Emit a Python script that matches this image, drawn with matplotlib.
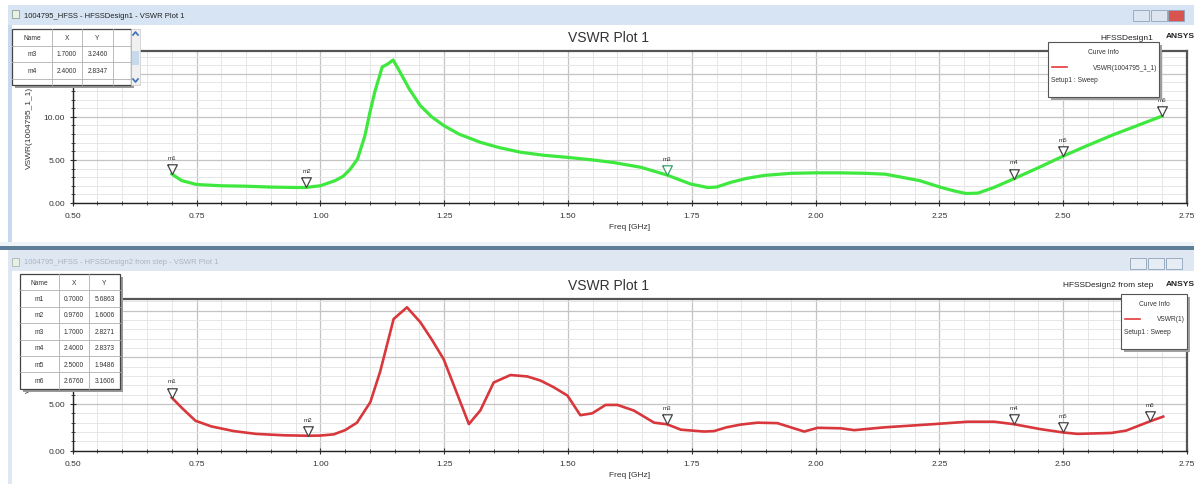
import numpy as np
import matplotlib
matplotlib.use('Agg')
import matplotlib.pyplot as plt
from matplotlib.patches import Rectangle
from matplotlib.ticker import MultipleLocator

plt.rcParams['font.family'] = ['Liberation Sans', 'DejaVu Sans']

W, H = 1194, 485

# ---- data ----
freq_top = [0.70, 0.72, 0.75, 0.80, 0.85, 0.90, 0.95, 0.97, 1.00, 1.03, 1.046, 1.06,
            1.075, 1.09, 1.10, 1.11, 1.125, 1.135, 1.147, 1.16, 1.18, 1.202, 1.225,
            1.249, 1.28, 1.323, 1.36, 1.404, 1.45, 1.499, 1.55, 1.592, 1.647, 1.70,
            1.748, 1.782, 1.80, 1.829, 1.86, 1.896, 1.951, 2.00, 2.05, 2.10, 2.14,
            2.173, 2.21, 2.254, 2.28, 2.304, 2.328, 2.36, 2.401, 2.45, 2.50, 2.55,
            2.60, 2.65, 2.70]
vswr_top = [3.37, 2.6, 2.15, 2.0, 1.95, 1.85, 1.8, 1.8, 2.0, 2.6, 3.1, 3.9,
            5.1, 7.8, 10.5, 12.9, 15.8, 16.1, 16.6, 15.3, 13.2, 11.3, 10.0,
            9.0, 8.0, 7.05, 6.45, 5.9, 5.55, 5.3, 5.0, 4.7, 4.15, 3.25,
            2.2, 1.8, 1.85, 2.4, 2.85, 3.2, 3.45, 3.5, 3.5, 3.45, 3.35,
            3.0, 2.6, 1.8, 1.4, 1.1, 1.15, 1.8, 2.83, 4.1, 5.45, 6.7,
            7.9, 9.0, 10.1]

freq_bot = [0.70, 0.72, 0.748, 0.78, 0.825, 0.87, 0.926, 0.976, 1.00, 1.027, 1.05,
            1.074, 1.101, 1.121, 1.148, 1.175, 1.202, 1.225, 1.249, 1.30, 1.323,
            1.35, 1.384, 1.418, 1.445, 1.471, 1.499, 1.525, 1.549, 1.576, 1.60,
            1.633, 1.674, 1.70, 1.728, 1.775, 1.795, 1.82, 1.849, 1.883, 1.923,
            1.95, 1.977, 2.004, 2.051, 2.078, 2.139, 2.24, 2.307, 2.361, 2.40,
            2.455, 2.50, 2.529, 2.597, 2.627, 2.676, 2.702]
vswr_bot = [5.69, 4.6, 3.2, 2.6, 2.1, 1.8, 1.65, 1.60, 1.62, 1.75, 2.2,
            3.0, 5.2, 8.5, 14.1, 15.35, 13.75, 11.9, 9.8, 2.85, 4.3,
            7.3, 8.1, 7.95, 7.5, 6.8, 5.9, 3.8, 4.0, 4.9, 4.9,
            4.3, 3.0, 2.83, 2.25, 2.05, 2.1, 2.5, 2.8, 3.0, 2.95,
            2.5, 2.05, 2.45, 2.4, 2.2, 2.5, 2.85, 3.1, 3.1, 2.84,
            2.3, 1.95, 1.8, 1.9, 2.15, 3.16, 3.65]

marker_names = ['m1', 'm2', 'm3', 'm4', 'm5', 'm6']
mk_freq_top = [0.70, 0.972, 1.70, 2.40, 2.50, 2.70]
mk_vswr_top = [3.37, 1.80, 3.2460, 2.8347, 5.45, 10.1]
mk_freq_bot = [0.70, 0.976, 1.70, 2.40, 2.50, 2.676]
mk_vswr_bot = [5.6863, 1.6006, 2.8271, 2.8373, 1.9486, 3.1606]

table_top_rows = [('m3', '1.7000', '3.2460'), ('m4', '2.4000', '2.8347')]
table_bot_rows = [('m1', '0.7000', '5.6863'), ('m2', '0.9760', '1.6006'),
                  ('m3', '1.7000', '2.8271'), ('m4', '2.4000', '2.8373'),
                  ('m5', '2.5000', '1.9486'), ('m6', '2.6760', '3.1606')]

xticks = [0.50, 0.75, 1.00, 1.25, 1.50, 1.75, 2.00, 2.25, 2.50, 2.75]

fig = plt.figure(figsize=(W / 100, H / 100), dpi=100)

# background "desktop" axes in pixel coordinates
bg = fig.add_axes([0, 0, 1, 1], zorder=0)
bg.set_xlim(0, W)
bg.set_ylim(H, 0)
bg.axis('off')


def rect(ax, x, y, w, h, fc, ec='none', lw=0.0, z=1):
    ax.add_patch(Rectangle((x, y), w, h, facecolor=fc, edgecolor=ec, linewidth=lw, zorder=z))


# window frames
rect(bg, 0, 0, W, H, 'white')
rect(bg, 8, 6, W, 238, '#c7d9ee')
rect(bg, 12, 26, W, 218, 'white', z=2)
rect(bg, 8, 6, W, 20, '#d6e4f3', z=2)
rect(bg, 0, 243, W, 4, '#eef3f8', z=2)
rect(bg, 0, 247, W, 4, '#5f7f98', z=2)
rect(bg, 8, 251, W, 240, '#dfe8f2', z=2)
rect(bg, 12, 272, W, 220, 'white', z=3)

bg.text(24, 16, '1004795_HFSS - HFSSDesign1 - VSWR Plot 1', fontsize=5.5,
        va='center', color='#222222', zorder=5)
bg.text(24, 263, '1004795_HFSS - HFSSDesign2 from step - VSWR Plot 1', fontsize=5.5,
        va='center', color='#a8b4c0', zorder=5)
rect(bg, 12, 11, 7, 8, '#e8f0e8', ec='#8aa08a', lw=0.6, z=5)
rect(bg, 12, 259, 7, 8, '#e8f0e8', ec='#a8b8a8', lw=0.6, z=5)

# window buttons
for bx, by, c in [(1133, 11, '#dde6f0'), (1151, 11, '#dde6f0'), (1168, 11, '#d9534f'),
                  (1130, 259, '#e6edf4'), (1148, 259, '#e6edf4'), (1166, 259, '#e6edf4')]:
    rect(bg, bx, by, 16, 11, c, ec='#8ea3b8', lw=0.6, z=5)

# headers
for y0, design in [(38, 'HFSSDesign1'), (286, 'HFSSDesign2 from step')]:
    bg.text(608, y0, 'VSWR Plot 1', fontsize=10, ha='center', va='center',
            color='#333333', zorder=5)
    bg.text(1153, y0, design, fontsize=6, ha='right', va='center', color='#222222', zorder=5)
    bg.text(1166, y0 - 1, 'ANSYS', fontsize=6, fontweight='bold', ha='left',
            va='center', color='#222222', zorder=5)


def px_axes(left, top, right, bottom):
    return fig.add_axes([left / W, 1 - bottom / H, (right - left) / W, (bottom - top) / H], zorder=2)


def setup_plot(ax, ymax, ylabel):
    ax.set_xlim(0.5, 2.75)
    ax.set_ylim(0, ymax)
    ax.set_xticks(xticks)
    ax.set_xticklabels(['%.2f' % t for t in xticks])
    ax.xaxis.set_minor_locator(MultipleLocator(0.05))
    ax.set_yticks([0, 5, 10, 15])
    ax.set_yticklabels(['0.00', '5.00', '10.00', '15.00'])
    ax.yaxis.set_minor_locator(MultipleLocator(1))
    ax.grid(which='major', color='#c4c4c4', linewidth=0.9)
    ax.grid(which='minor', color='#e6e6e6', linewidth=0.7)
    ax.set_axisbelow(True)
    ax.tick_params(which='both', direction='inout', labelsize=6, colors='#333333',
                   top=False, right=False)
    ax.tick_params(which='major', length=5, width=0.8)
    ax.tick_params(which='minor', length=3, width=0.6)
    ax.tick_params(axis='x', pad=4)
    ax.tick_params(axis='y', pad=3)
    for s in ['left', 'bottom']:
        ax.spines[s].set_color('#222222')
        ax.spines[s].set_linewidth(1.0)
    for s in ['top', 'right']:
        ax.spines[s].set_color('#555555')
        ax.spines[s].set_linewidth(1.6)
    ax.set_ylabel(ylabel, fontsize=6, color='#333333')
    ax.yaxis.set_label_coords(-0.036, 0.5)
    ax.set_xlabel('Freq [GHz]', fontsize=6, color='#333333', labelpad=3)


tri = [(-0.5, 1.0), (0.5, 1.0), (0.0, 0.0), (-0.5, 1.0)]


def draw_markers(ax, mf, mv, edge):
    for name, f, v, ec in zip(marker_names, mf, mv, edge):
        ax.plot([f], [v], marker=tri, markersize=14, markerfacecolor='white',
                markeredgecolor=ec, markeredgewidth=0.9, linestyle='none', zorder=4,
                clip_on=False)
        ax.annotate(name, (f, v), xytext=(0, 12), textcoords='offset points',
                    fontsize=4.5, ha='center', va='center', color='#333333',
                    zorder=5, annotation_clip=False)


ax1 = px_axes(72.7, 52, 1187, 204)
setup_plot(ax1, 17.65, 'VSWR(1004795_1_1)')
ax1.plot(freq_top, vswr_top, color='#3ee83e', linewidth=2.3, zorder=3)
draw_markers(ax1, mk_freq_top, mk_vswr_top,
             ['#444444', '#444444', '#3aa070', '#444444', '#444444', '#444444'])
# tick label that sits under the marker table in the screenshot
ax1.get_yticklabels()[3].set_visible(False)

ax2 = px_axes(72.7, 300, 1187, 451.7)
setup_plot(ax2, 16.24, 'VSWR(1)')
ax2.plot(freq_bot, vswr_bot, color='#d8373c', linewidth=1.9, zorder=3)
draw_markers(ax2, mk_freq_bot, mk_vswr_bot, ['#444444'] * 6)
for lbl in ax2.get_yticklabels()[2:]:
    lbl.set_visible(False)

# overlay for marker tables and curve info boxes
ov = fig.add_axes([0, 0, 1, 1], zorder=10)
ov.set_xlim(0, W)
ov.set_ylim(H, 0)
ov.axis('off')
ov.patch.set_alpha(0)


def marker_table(x0, y0, cols, rowh, rows, hbox, extra_col=0):
    widths = [c[1] for c in cols]
    total = sum(widths) + extra_col
    rect(ov, x0 + 3, y0 + 3, total, hbox, '#9a9a9a', z=1)
    rect(ov, x0, y0, total, hbox, 'white', ec='#444444', lw=0.9, z=2)
    allrows = [tuple(c[0] for c in cols)] + rows
    for i, r in enumerate(allrows):
        yy = y0 + i * rowh
        if 0 < i:
            ov.plot([x0, x0 + total], [yy, yy], color='#b0b0b0', lw=0.6, zorder=3)
        xx = x0
        for txt, w in zip(r, widths):
            ov.text(xx + w / 2, yy + rowh / 2, txt, fontsize=4.8, ha='center',
                    va='center', color='#333333', zorder=4)
            xx += w
    xx = x0
    edges = widths[:-1] + ([widths[-1]] if extra_col else [])
    for w in edges:
        xx += w
        ov.plot([xx, xx], [y0, y0 + hbox], color='#b0b0b0', lw=0.6, zorder=3)


cols_top = [('Name', 40), ('X', 30), ('Y', 31)]
marker_table(12, 30, cols_top, 16.5, table_top_rows + [('', '', '')], 56, extra_col=18)
# scrollbar
rect(ov, 131, 30, 9, 56, '#f0f0f0', ec='#c8c8c8', lw=0.5, z=2)
rect(ov, 132, 52, 7, 14, '#c9d9ec', z=3)
ov.plot([133, 135.5, 138], [36, 33, 36], color='#3b6fb6', lw=1.2, zorder=4)
ov.plot([133, 135.5, 138], [80, 83, 80], color='#3b6fb6', lw=1.2, zorder=4)

cols_bot = [('Name', 39), ('X', 30), ('Y', 31)]
marker_table(20, 275, cols_bot, 16.4, table_bot_rows, 16.4 * 7)


def curve_info(x0, y0, w, h, label):
    rect(ov, x0 + 3, y0 + 3, w, h, '#a0a0a0', z=1)
    rect(ov, x0, y0, w, h, 'white', ec='#555555', lw=0.8, z=2)
    ov.text(x0 + w / 2, y0 + 10, 'Curve Info', fontsize=4.8, ha='center', va='center',
            color='#333333', zorder=4)
    ov.plot([x0 + 4, x0 + 19], [y0 + 25, y0 + 25], color='#e03a3a', lw=1.2, zorder=4)
    ov.text(x0 + w - 2, y0 + 25, label, fontsize=4.8, ha='right', va='center',
            color='#333333', zorder=4)
    ov.text(x0 + 3, y0 + 38, 'Setup1 : Sweep', fontsize=4.8, ha='left', va='center',
            color='#333333', zorder=4)


curve_info(1048, 43, 111, 55, 'VSWR(1004795_1_1)')
curve_info(1121, 295, 66, 55, 'VSWR(1)')

fig.savefig('out.png', dpi=100)
